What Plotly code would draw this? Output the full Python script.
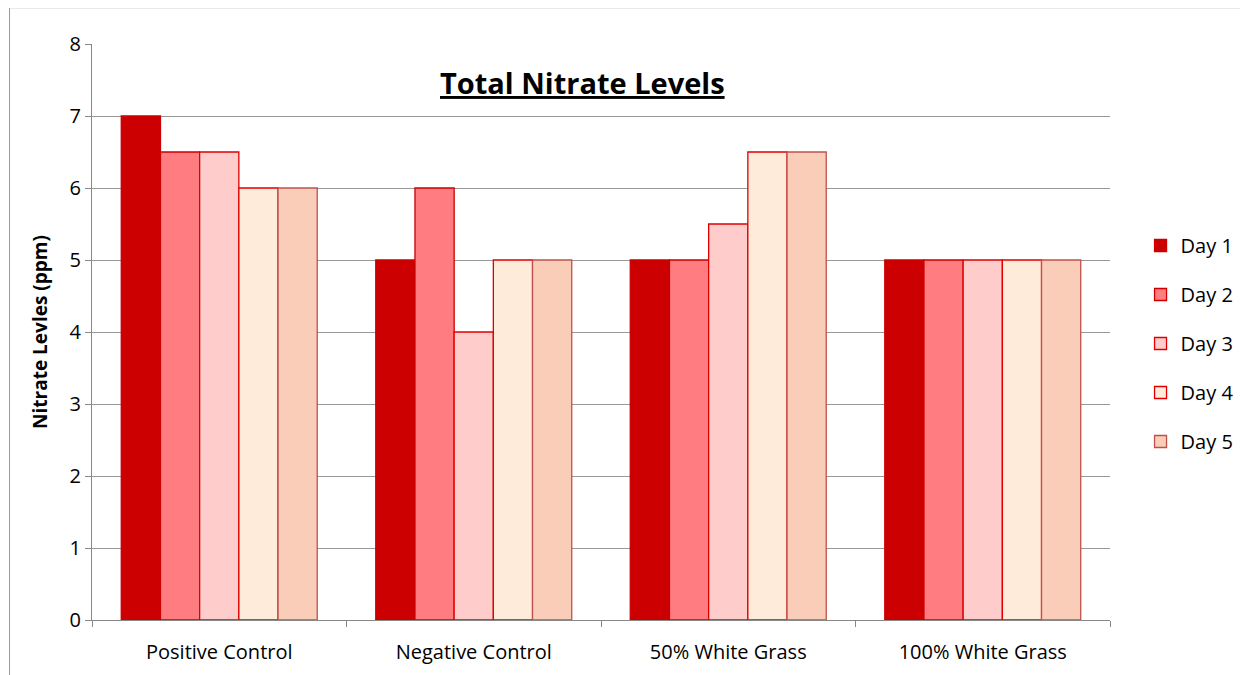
import plotly.graph_objects as go

categories = ["Positive Control", "Negative Control", "50% White Grass", "100% White Grass"]
series_names = ["Day 1", "Day 2", "Day 3", "Day 4", "Day 5"]
day1 = [7, 5, 5, 5]
day2 = [6.5, 6, 5, 5]
day3 = [6.5, 4, 5.5, 5]
day4 = [6, 5, 6.5, 5]
day5 = [6, 5, 6.5, 5]
values = [day1, day2, day3, day4, day5]
colors = ["#CC0000", "#FF7C80", "#FFCCCC", "#FFEBD9", "#F9CDB8"]
lines = ["#CC0000", "#CC0000", "#E00000", "#E00000", "#C0504D"]

fig = go.Figure()
for n, v, c, lc in zip(series_names, values, colors, lines):
    fig.add_trace(go.Bar(name=n, x=categories, y=v, legendgroup=n,
                         marker=dict(color=c, line=dict(color=lc, width=1.3))))

fig.update_layout(
    width=1248, height=675, barmode="group", bargap=0.23, bargroupgap=0,
    paper_bgcolor="white", plot_bgcolor="white",
    margin=dict(l=84, r=146, t=36, b=63),
    font=dict(family="Open Sans, Calibri, sans-serif", size=20, color="black"),
    legend=dict(x=1.03, y=0.48, yanchor="middle", font=dict(size=20), traceorder="grouped",
                itemwidth=30, tracegroupgap=20),
    xaxis=dict(showline=True, linecolor="#888", ticks="outside", tickson="boundaries", ticklen=6,
               tickcolor="#888", ticklabelstandoff=14),
    yaxis=dict(range=[0, 8], dtick=1, showgrid=True, gridcolor="#999", gridwidth=1,
               showline=True, linecolor="#888", ticks="outside", ticklen=6, tickcolor="#888",
               title=dict(text="<b>Nitrate Levles (ppm)</b>", font=dict(size=19), standoff=16)),
    annotations=[dict(text="<b><u>Total Nitrate Levels</u></b>", xref="paper", yref="paper",
                      x=0.482, y=0.934, yanchor="middle", showarrow=False, font=dict(size=29))],
    shapes=[dict(type="line", xref="paper", yref="paper", x0=-0.081, x1=-0.081, y0=-0.11, y1=1.063,
                 line=dict(color="#999", width=1)),
            dict(type="line", xref="paper", yref="paper", x0=-0.081, x1=1.13, y0=1.063, y1=1.063,
                 line=dict(color="#999", width=1))],
)
fig.write_html("out.html")
